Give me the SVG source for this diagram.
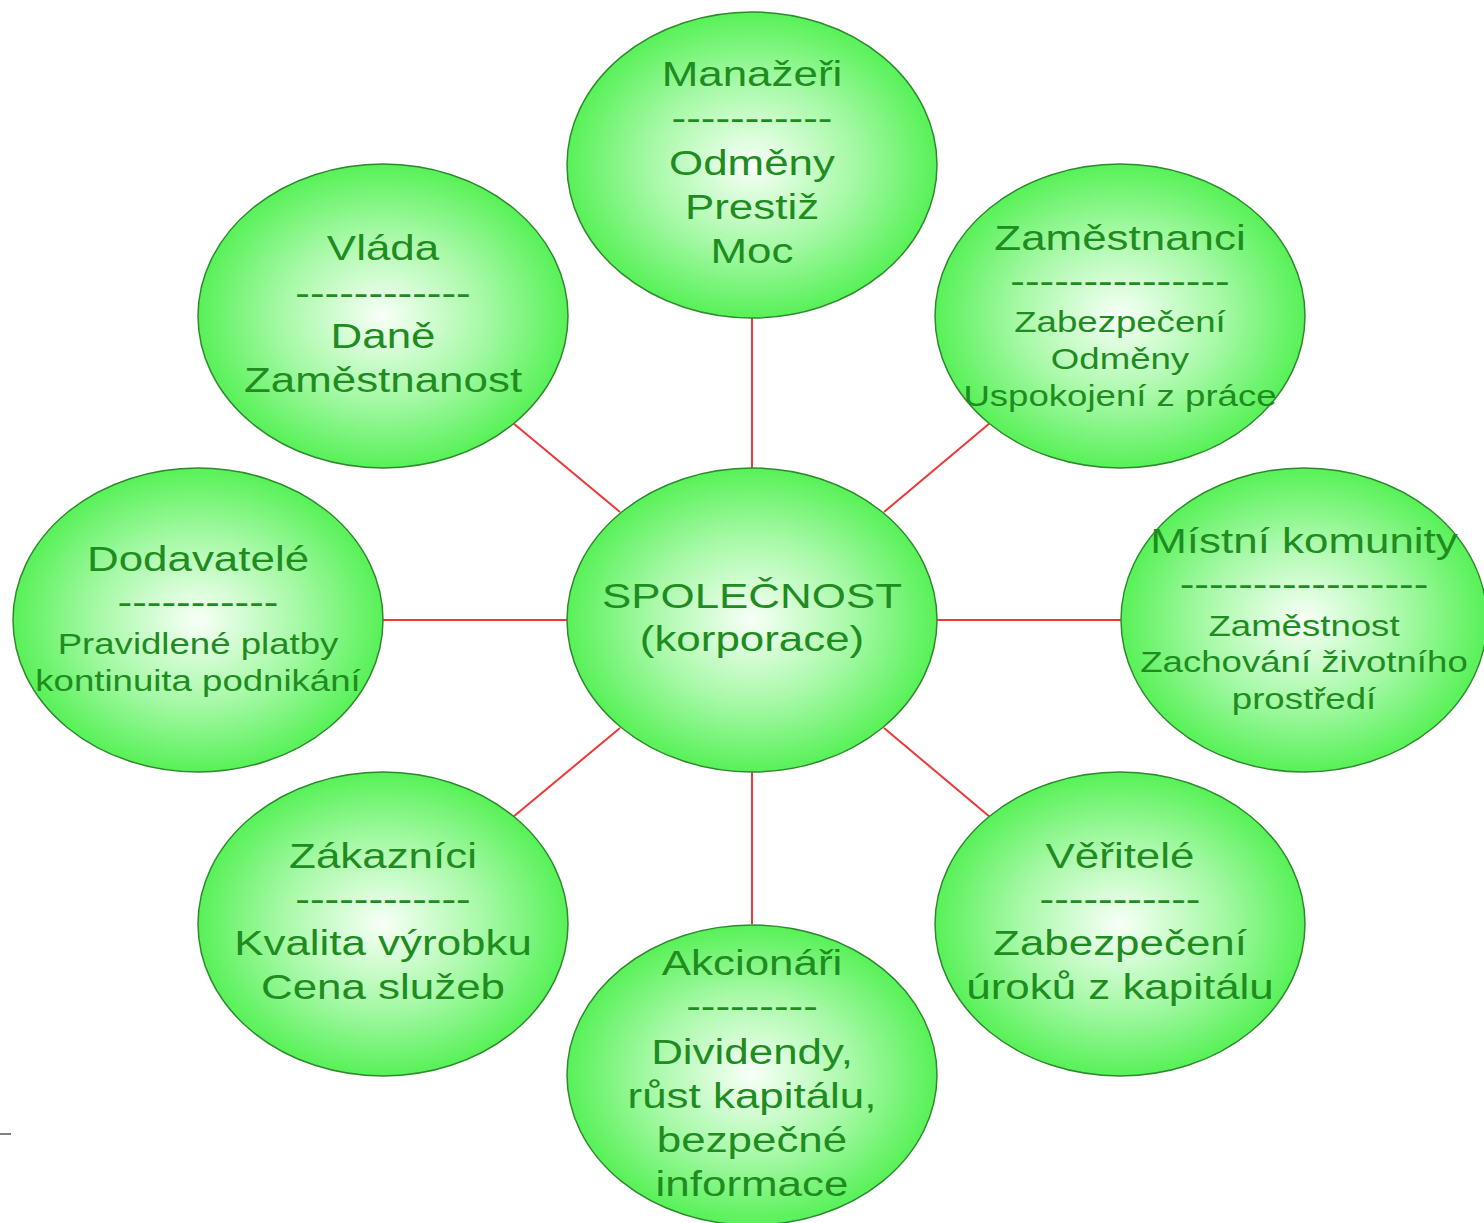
<svg xmlns="http://www.w3.org/2000/svg" width="1484" height="1223" viewBox="0 0 1484 1223">
<defs>
<radialGradient id="g" cx="50%" cy="50%" r="50%">
<stop offset="0" stop-color="#f8fff8"/>
<stop offset="0.55" stop-color="#a6f9a6"/>
<stop offset="1" stop-color="#58f158"/>
</radialGradient>
<style>
.n{fill:url(#g);stroke:#2f8a2f;stroke-width:1.5}
.c{stroke:#ee3838;stroke-width:2;fill:none}
text{font-family:"Liberation Sans",Arial,sans-serif;fill:#1f8c1f;text-anchor:middle}
.t{font-size:36px}
.s{font-size:30px}
</style>
</defs>
<rect width="1484" height="1223" fill="#ffffff"/>
<line x1="0" y1="1134" x2="11" y2="1134" stroke="#555" stroke-width="1.5"/>
<g id="connectors">
<line class="c" x1="752" y1="468" x2="752" y2="318"/>
<line class="c" x1="752" y1="772" x2="752" y2="924"/>
<line class="c" x1="567" y1="620" x2="383" y2="620"/>
<line class="c" x1="937" y1="620" x2="1121" y2="620"/>
<line class="c" x1="620" y1="512" x2="513" y2="423"/>
<line class="c" x1="884" y1="512" x2="990" y2="423"/>
<line class="c" x1="620" y1="728" x2="513" y2="817"/>
<line class="c" x1="884" y1="728" x2="990" y2="817"/>
</g>
<g id="manazeri">
<ellipse class="n" cx="752" cy="165" rx="185" ry="153"/>
<g transform="translate(752 0) scale(1.22 1)">
<text class="t" x="0" y="86">Manažeři</text>
<text class="t" x="0" y="130">-----------</text>
<text class="t" x="0" y="175">Odměny</text>
<text class="t" x="0" y="219">Prestiž</text>
<text class="t" x="0" y="263">Moc</text>
</g>
</g>
<g id="vlada">
<ellipse class="n" cx="383" cy="316" rx="185" ry="152"/>
<g transform="translate(383 0) scale(1.22 1)">
<text class="t" x="0" y="260">Vláda</text>
<text class="t" x="0" y="305">------------</text>
<text class="t" x="0" y="348">Daně</text>
<text class="t" x="0" y="392">Zaměstnanost</text>
</g>
</g>
<g id="zamestnanci">
<ellipse class="n" cx="1120" cy="316" rx="185" ry="152"/>
<g transform="translate(1120 0) scale(1.22 1)">
<text class="t" x="0" y="250">Zaměstnanci</text>
<text class="t" x="0" y="293">---------------</text>
<text class="s" x="0" y="332">Zabezpečení</text>
<text class="s" x="0" y="369">Odměny</text>
<text class="s" x="0" y="406">Uspokojení z práce</text>
</g>
</g>
<g id="spolecnost">
<ellipse class="n" cx="752" cy="620" rx="185" ry="152"/>
<g transform="translate(752 0) scale(1.22 1)">
<text class="t" x="0" y="608">SPOLEČNOST</text>
<text class="t" x="0" y="651">(korporace)</text>
</g>
</g>
<g id="dodavatele">
<ellipse class="n" cx="198" cy="620" rx="185" ry="152"/>
<g transform="translate(198 0) scale(1.22 1)">
<text class="t" x="0" y="571">Dodavatelé</text>
<text class="t" x="0" y="614">-----------</text>
<text class="s" x="0" y="654">Pravidlené platby</text>
<text class="s" x="0" y="691">kontinuita podnikání</text>
</g>
</g>
<g id="mistni-komunity">
<ellipse class="n" cx="1304" cy="620" rx="183" ry="152"/>
<g transform="translate(1304 0) scale(1.22 1)">
<text class="t" x="0" y="553">Místní komunity</text>
<text class="t" x="0" y="596">-----------------</text>
<text class="s" x="0" y="636">Zaměstnost</text>
<text class="s" x="0" y="672">Zachování životního</text>
<text class="s" x="0" y="709">prostředí</text>
</g>
</g>
<g id="zakaznici">
<ellipse class="n" cx="383" cy="924" rx="185" ry="152"/>
<g transform="translate(383 0) scale(1.22 1)">
<text class="t" x="0" y="868">Zákazníci</text>
<text class="t" x="0" y="911">------------</text>
<text class="t" x="0" y="955">Kvalita výrobku</text>
<text class="t" x="0" y="999">Cena služeb</text>
</g>
</g>
<g id="veritele">
<ellipse class="n" cx="1120" cy="924" rx="185" ry="152"/>
<g transform="translate(1120 0) scale(1.22 1)">
<text class="t" x="0" y="868">Věřitelé</text>
<text class="t" x="0" y="911">-----------</text>
<text class="t" x="0" y="955">Zabezpečení</text>
<text class="t" x="0" y="999">úroků z kapitálu</text>
</g>
</g>
<g id="akcionari">
<ellipse class="n" cx="752" cy="1075" rx="185" ry="150"/>
<g transform="translate(752 0) scale(1.22 1)">
<text class="t" x="0" y="975">Akcionáři</text>
<text class="t" x="0" y="1018">---------</text>
<text class="t" x="0" y="1064">Dividendy,</text>
<text class="t" x="0" y="1108">růst kapitálu,</text>
<text class="t" x="0" y="1152">bezpečné</text>
<text class="t" x="0" y="1196">informace</text>
</g>
</g>
</svg>
